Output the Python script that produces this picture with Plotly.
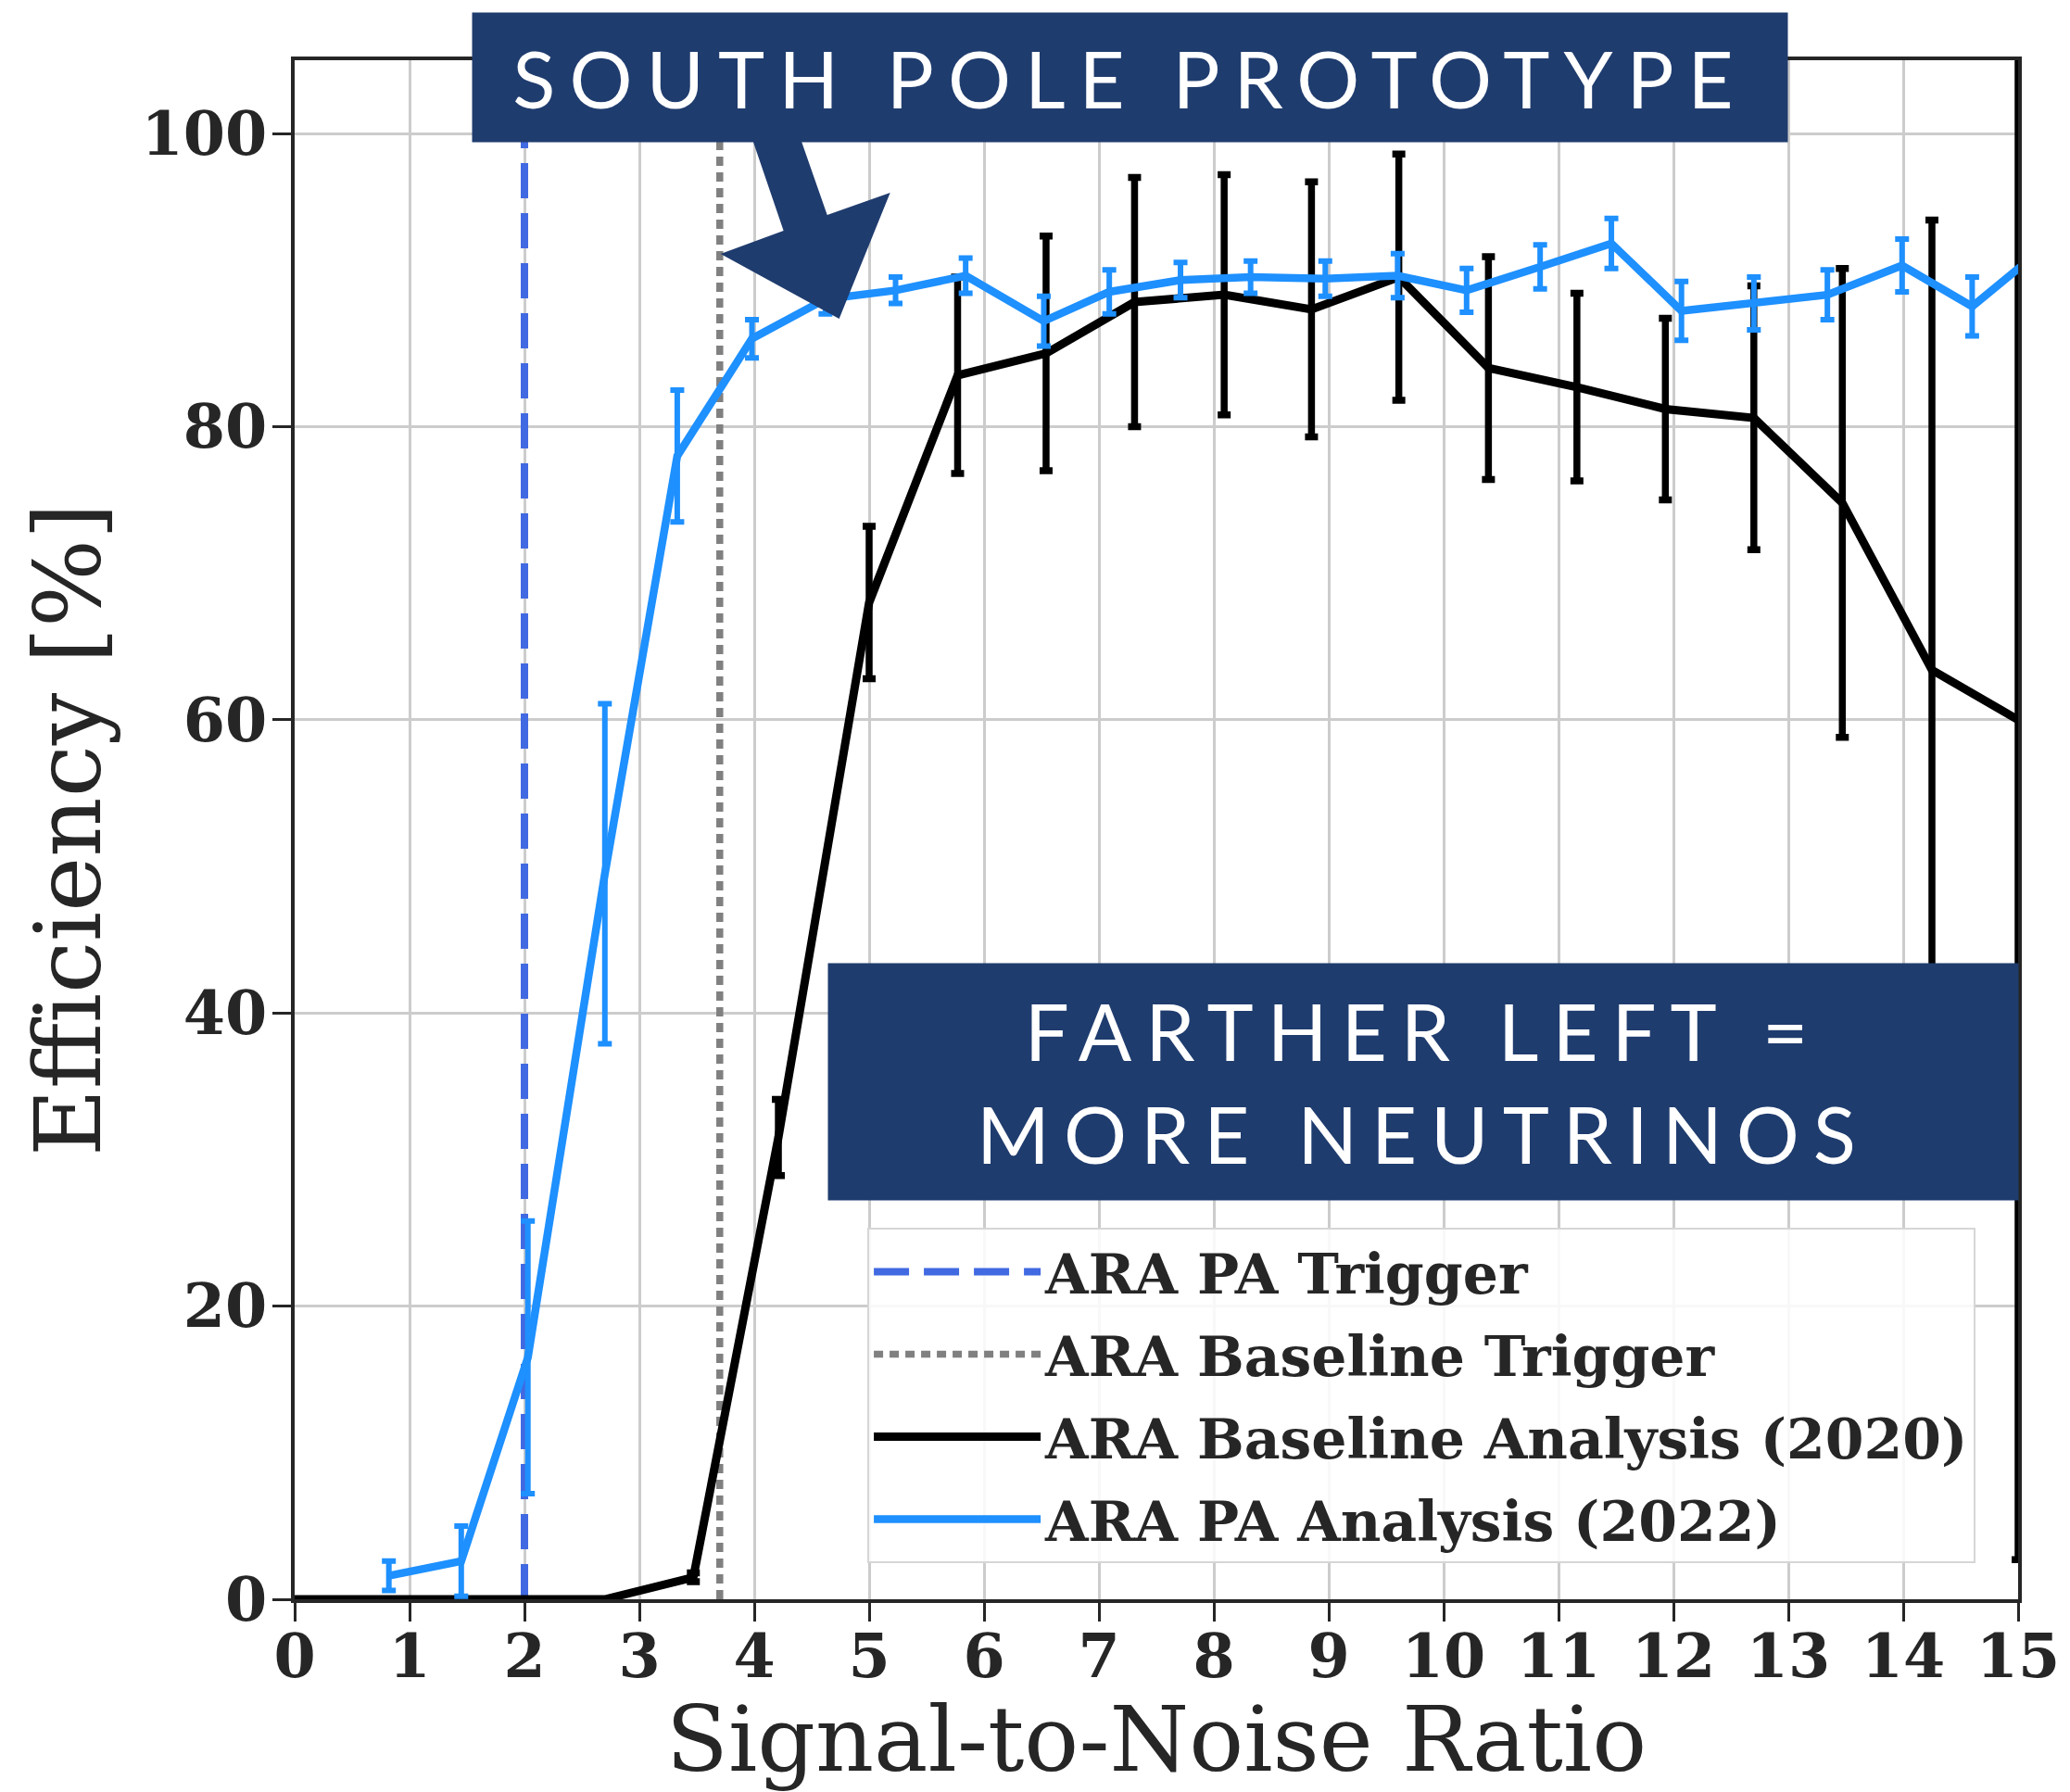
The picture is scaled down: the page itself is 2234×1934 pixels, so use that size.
import plotly.graph_objects as go

# ---------------------------------------------------------------------
# Data
# ---------------------------------------------------------------------
# ARA Baseline Analysis (2020)
snr_baseline = [-0.38, 0.39, 1.16, 1.93, 2.70, 3.47, 4.21, 5.00, 5.77, 6.54, 7.31,
                8.09, 8.85, 9.61, 10.39, 11.16, 11.93, 12.70, 13.47, 14.25, 15.00]
eff_baseline = [0, 0, 0, 0, 0, 1.5, 31.5, 68.0, 83.5, 85.0, 88.5,
                89.0, 88.0, 90.2, 84.0, 82.7, 81.2, 80.6, 74.8, 63.4, 60.0]
err_baseline = [0, 0, 0, 0, 0, 0.3, 2.6, 5.2, 6.7, 8.0, 8.5,
                8.2, 8.7, 8.4, 7.6, 6.4, 6.2, 9.0, 16.0, 30.7, 57.3]

# ARA PA Analysis (2022)
snr_pa = [0.82, 1.45, 2.03, 2.70, 3.33, 3.98, 4.62, 5.23, 5.84, 6.52, 7.09, 7.71,
          8.32, 8.97, 9.60, 10.20, 10.84, 11.46, 12.07, 12.70, 13.34, 13.99, 14.60, 15.22]
eff_pa = [1.6, 2.6, 16.5, 49.5, 78.0, 86.0, 88.7, 89.3, 90.3, 87.2, 89.2, 90.0,
          90.2, 90.1, 90.3, 89.3, 90.9, 92.5, 87.9, 88.4, 89.0, 91.0, 88.2, 92.2]
err_pa = [1.0, 2.4, 9.3, 11.6, 4.5, 1.3, 1.0, 0.9, 1.2, 1.7, 1.5, 1.2,
          1.1, 1.2, 1.5, 1.5, 1.5, 1.7, 2.0, 1.8, 1.7, 1.8, 2.0, 2.0]

# trigger thresholds (vertical reference lines)
pa_trigger_snr = 2.0
baseline_trigger_snr = 3.7

x_range = [0, 15]
y_range = [0, 105]
x_ticks = list(range(0, 16))
y_ticks = [0, 20, 40, 60, 80, 100]

# ---------------------------------------------------------------------
# Styling
# ---------------------------------------------------------------------
NAVY = "#1f3c6e"
TEXT = "#262626"
SERIF = "DejaVu Serif"
SANS = "Lato"

fig = go.Figure()

fig.add_trace(go.Scatter(
    x=[pa_trigger_snr, pa_trigger_snr], y=y_range,
    mode="lines", name="ARA PA Trigger", legendgroup="g1",
    line=dict(color="#4169e1", width=8, dash="38px,16px"),
))
fig.add_trace(go.Scatter(
    x=[baseline_trigger_snr, baseline_trigger_snr], y=y_range,
    mode="lines", name="ARA Baseline Trigger", legendgroup="g2",
    line=dict(color="#808080", width=7.5, dash="10px,7px"),
))
fig.add_trace(go.Scatter(
    x=snr_baseline, y=eff_baseline,
    mode="lines", name="ARA Baseline Analysis (2020)", legendgroup="g3",
    line=dict(color="black", width=9),
    error_y=dict(type="data", array=err_baseline, color="black",
                 thickness=7.5, width=7),
))
fig.add_trace(go.Scatter(
    x=snr_pa, y=eff_pa,
    mode="lines", name="ARA PA Analysis (2022)", legendgroup="g4",
    line=dict(color="#1e90ff", width=8.5),
    error_y=dict(type="data", array=err_pa, color="#1e90ff",
                 thickness=6, width=7.5),
))

# fat navy arrow pointing at the PA curve
arrow_path = ("M3.958,100.19 L4.350,100.82 L4.635,94.44 L5.183,95.96 "
              "L4.739,87.37 L3.707,91.79 L4.255,93.37 Z")
fig.add_shape(type="path", path=arrow_path, xref="x", yref="y",
              fillcolor=NAVY, line=dict(width=0), layer="above")

spacing = "letter-spacing:15px"
fig.add_annotation(
    text=f'<span style="{spacing}">SOUTH POLE PROTOTYPE</span>',
    xref="paper", yref="paper", x=0.1027, y=1.0313,
    xanchor="left", yanchor="top", showarrow=False,
    width=1419, height=139, borderpad=0, bgcolor=NAVY,
    align="center", valign="middle",
    font=dict(family=SANS, size=85, color="white"),
)
fig.add_annotation(
    text=(f'<span style="{spacing}">FARTHER LEFT =</span><br>'
          f'<span style="{spacing}">MORE NEUTRINOS</span>'),
    xref="paper", yref="paper", x=0.3091, y=0.4136,
    xanchor="left", yanchor="top", showarrow=False,
    width=1284, height=255, borderpad=0, bgcolor=NAVY,
    align="center", valign="middle",
    font=dict(family=SANS, size=85, color="white"),
)

axis_common = dict(
    showline=True, linecolor=TEXT, linewidth=3.5, mirror=True,
    ticks="outside", ticklen=20, tickwidth=3.3, tickcolor=TEXT,
    showgrid=True, gridcolor="#cccccc", gridwidth=2.5,
    zeroline=False,
    tickfont=dict(family=SERIF, size=65, color=TEXT, weight="bold"),
)

fig.update_xaxes(
    range=x_range, tickvals=x_ticks, ticklabelstandoff=-18,
    title=dict(text="Signal-to-Noise Ratio", standoff=40,
               font=dict(family=SERIF, size=98, color=TEXT)),
    **axis_common,
)
fig.update_yaxes(
    range=y_range, tickvals=y_ticks, ticklabelstandoff=-7,
    title=dict(text="Efficiency [%]", standoff=12,
               font=dict(family=SERIF, size=100, color=TEXT)),
    **axis_common,
)

fig.update_layout(
    width=2234, height=1934,
    margin=dict(l=318, r=56, t=65, b=208, autoexpand=False),
    plot_bgcolor="white", paper_bgcolor="white",
    showlegend=True,
    legend=dict(
        x=0.3323, y=0.2414, xanchor="left", yanchor="top",
        bgcolor="rgba(255,255,255,0.85)", bordercolor="#d6d6d6", borderwidth=2,
        font=dict(family=SERIF, size=60, color=TEXT, weight="bold"),
        traceorder="grouped", tracegroupgap=8, itemwidth=180,
    ),
)

fig.write_html("out.html", config={"displayModeBar": False},
               post_script="document.body.style.margin='0';"
                           "document.body.style.overflow='hidden';")
